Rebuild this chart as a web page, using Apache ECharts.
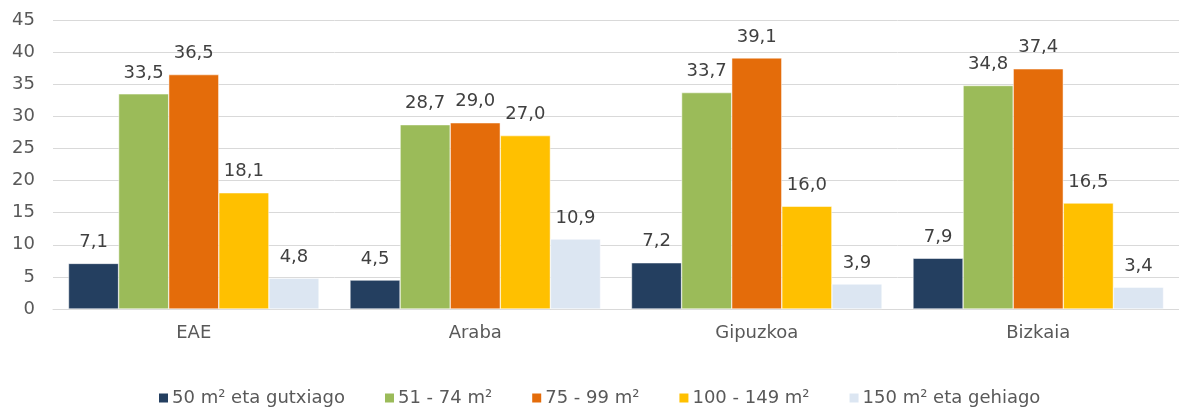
<!DOCTYPE html>
<html>
<head>
<meta charset="utf-8">
<script src="https://cdn.jsdelivr.net/npm/echarts@6/dist/echarts.min.js"></script>
<style>
  html, body { margin: 0; padding: 0; background: #fff; overflow: hidden; }
  #chart { width: 1179px; height: 409px; }
</style>
</head>
<body>
<div id="chart"></div>
<script>
// Dwelling size distribution (%) by territory
const categories = ['EAE', 'Araba', 'Gipuzkoa', 'Bizkaia'];
const seriesNames = ['50 m² eta gutxiago', '51 - 74 m²', '75 - 99 m²', '100 - 149 m²', '150 m² eta gehiago'];
const lt50 = [7.1, 4.5, 7.2, 7.9];
const s51_74 = [33.5, 28.7, 33.7, 34.8];
const s75_99 = [36.5, 29.0, 39.1, 37.4];
const s100_149 = [18.1, 27.0, 16.0, 16.5];
const gt150 = [4.8, 10.9, 3.9, 3.4];
const seriesValues = [lt50, s51_74, s75_99, s100_149, gt150];
const colors = ['#243F60', '#9BBB59', '#E46C0A', '#FFC000', '#DCE6F2'];

const fontFamily = '"DejaVu Sans", "Liberation Sans", sans-serif';
const chart = echarts.init(document.getElementById('chart'));

chart.setOption({
  animation: false,
  color: colors,
  textStyle: { fontFamily: fontFamily },
  grid: { left: 53, right: -4, top: 20, bottom: 100, containLabel: false },
  legend: {
    top: 384,
    left: 152,
    itemWidth: 11,
    itemHeight: 11,
    itemGap: 38,
    icon: 'rect',
    textStyle: { fontSize: 18, color: '#595959', fontFamily: fontFamily, padding: [0, 0, 0, -2] },
    data: seriesNames
  },
  xAxis: {
    type: 'category',
    data: categories,
    axisLine: { lineStyle: { color: '#D9D9D9', width: 1 } },
    axisTick: { show: false },
    axisLabel: { fontSize: 18, color: '#595959', margin: 15 }
  },
  yAxis: {
    type: 'value',
    min: 0,
    max: 45,
    interval: 5,
    axisLine: { show: false },
    axisTick: { show: false },
    splitLine: { lineStyle: { color: '#D9D9D9', width: 1 } },
    axisLabel: { fontSize: 18, color: '#595959', margin: 18 }
  },
  series: seriesNames.map((name, i) => ({
    name: name,
    type: 'bar',
    data: seriesValues[i],
    barGap: '0%',
    barCategoryGap: '11%',
    itemStyle: { color: colors[i], borderColor: '#ffffff', borderWidth: 0.5 },
    label: {
      show: true,
      position: 'top',
      distance: 12,
      fontSize: 18,
      color: '#404040',
      formatter: p => p.value.toFixed(1).replace('.', ',')
    }
  }))
});
</script>
</body>
</html>
